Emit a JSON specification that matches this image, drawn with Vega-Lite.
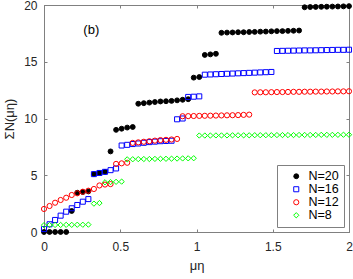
{
  "$schema": "https://vega.github.io/schema/vega-lite/v6.json",
  "width": 305,
  "height": 227,
  "autosize": {"type": "none"},
  "padding": {"left": 44, "top": 5, "right": 4, "bottom": 47},
  "config": {
    "font": "Liberation Sans",
    "view": {"stroke": "#808080", "strokeWidth": 1},
    "axis": {
      "grid": false,
      "domainColor": "#808080",
      "tickColor": "#808080",
      "tickSize": -3,
      "labelColor": "#262626",
      "labelFontSize": 12,
      "titleFontWeight": "normal",
      "titleColor": "#262626",
      "titleFontSize": 13
    },
    "legend": {
      "orient": "bottom-right",
      "offset": 5,
      "fillColor": "white",
      "strokeColor": "#808080",
      "padding": 5,
      "labelFontSize": 12.5,
      "labelColor": "#000000",
      "rowPadding": 0,
      "symbolOffset": 8,
      "labelOffset": 6,
      "symbolStrokeWidth": 1,
      "title": null
    }
  },
  "layer": [
    {
      "data": {
        "values": [
          {"N": "N=20", "mu": 0, "s": 0}, {"N": "N=20", "mu": 0.0364, "s": 0}, {"N": "N=20", "mu": 0.0727, "s": 0}, {"N": "N=20", "mu": 0.1091, "s": 0}, {"N": "N=20", "mu": 0.1455, "s": 0},
          {"N": "N=20", "mu": 0.1818, "s": 1.85},
          {"N": "N=20", "mu": 0.2182, "s": 3.46}, {"N": "N=20", "mu": 0.2545, "s": 3.52}, {"N": "N=20", "mu": 0.2909, "s": 3.58},
          {"N": "N=20", "mu": 0.3273, "s": 5.1}, {"N": "N=20", "mu": 0.3636, "s": 5.2}, {"N": "N=20", "mu": 0.4, "s": 5.3},
          {"N": "N=20", "mu": 0.4364, "s": 7.1},
          {"N": "N=20", "mu": 0.4727, "s": 9.0}, {"N": "N=20", "mu": 0.5091, "s": 9.1}, {"N": "N=20", "mu": 0.5455, "s": 9.2}, {"N": "N=20", "mu": 0.5818, "s": 9.25},
          {"N": "N=20", "mu": 0.6182, "s": 11.3}, {"N": "N=20", "mu": 0.6545, "s": 11.35}, {"N": "N=20", "mu": 0.6909, "s": 11.4}, {"N": "N=20", "mu": 0.7273, "s": 11.45}, {"N": "N=20", "mu": 0.7636, "s": 11.5}, {"N": "N=20", "mu": 0.8, "s": 11.52}, {"N": "N=20", "mu": 0.8364, "s": 11.55}, {"N": "N=20", "mu": 0.8727, "s": 11.6}, {"N": "N=20", "mu": 0.9091, "s": 11.65}, {"N": "N=20", "mu": 0.9455, "s": 11.7},
          {"N": "N=20", "mu": 0.9818, "s": 13.6}, {"N": "N=20", "mu": 1.0182, "s": 13.65},
          {"N": "N=20", "mu": 1.0545, "s": 15.6}, {"N": "N=20", "mu": 1.0909, "s": 15.65}, {"N": "N=20", "mu": 1.1273, "s": 15.7},
          {"N": "N=20", "mu": 1.1636, "s": 17.55}, {"N": "N=20", "mu": 1.2, "s": 17.57}, {"N": "N=20", "mu": 1.2364, "s": 17.58}, {"N": "N=20", "mu": 1.2727, "s": 17.6}, {"N": "N=20", "mu": 1.3091, "s": 17.6}, {"N": "N=20", "mu": 1.3455, "s": 17.62}, {"N": "N=20", "mu": 1.3818, "s": 17.63}, {"N": "N=20", "mu": 1.4182, "s": 17.65}, {"N": "N=20", "mu": 1.4545, "s": 17.66}, {"N": "N=20", "mu": 1.4909, "s": 17.68}, {"N": "N=20", "mu": 1.5273, "s": 17.7}, {"N": "N=20", "mu": 1.5636, "s": 17.7}, {"N": "N=20", "mu": 1.6, "s": 17.72}, {"N": "N=20", "mu": 1.6364, "s": 17.73}, {"N": "N=20", "mu": 1.6727, "s": 17.75},
          {"N": "N=20", "mu": 1.7091, "s": 19.8}, {"N": "N=20", "mu": 1.7455, "s": 19.82}, {"N": "N=20", "mu": 1.7818, "s": 19.83}, {"N": "N=20", "mu": 1.8182, "s": 19.84}, {"N": "N=20", "mu": 1.8545, "s": 19.85}, {"N": "N=20", "mu": 1.8909, "s": 19.86}, {"N": "N=20", "mu": 1.9273, "s": 19.87}, {"N": "N=20", "mu": 1.9636, "s": 19.88}, {"N": "N=20", "mu": 2.0, "s": 19.9},

          {"N": "N=16", "mu": 0, "s": 0.26}, {"N": "N=16", "mu": 0.0364, "s": 0.68}, {"N": "N=16", "mu": 0.0727, "s": 1.06}, {"N": "N=16", "mu": 0.1091, "s": 1.44}, {"N": "N=16", "mu": 0.1455, "s": 1.79}, {"N": "N=16", "mu": 0.1818, "s": 2.09}, {"N": "N=16", "mu": 0.2182, "s": 2.38}, {"N": "N=16", "mu": 0.2545, "s": 2.67}, {"N": "N=16", "mu": 0.2909, "s": 2.9},
          {"N": "N=16", "mu": 0.3273, "s": 5.1}, {"N": "N=16", "mu": 0.3636, "s": 5.2}, {"N": "N=16", "mu": 0.4, "s": 5.3}, {"N": "N=16", "mu": 0.4364, "s": 5.45}, {"N": "N=16", "mu": 0.4727, "s": 5.6},
          {"N": "N=16", "mu": 0.5091, "s": 7.62}, {"N": "N=16", "mu": 0.5455, "s": 7.68}, {"N": "N=16", "mu": 0.5818, "s": 7.75}, {"N": "N=16", "mu": 0.6182, "s": 7.8}, {"N": "N=16", "mu": 0.6545, "s": 7.86}, {"N": "N=16", "mu": 0.6909, "s": 7.92}, {"N": "N=16", "mu": 0.7273, "s": 7.96}, {"N": "N=16", "mu": 0.7636, "s": 8.0}, {"N": "N=16", "mu": 0.8, "s": 8.02}, {"N": "N=16", "mu": 0.8364, "s": 8.04},
          {"N": "N=16", "mu": 0.8727, "s": 9.93}, {"N": "N=16", "mu": 0.9091, "s": 10.0},
          {"N": "N=16", "mu": 0.9455, "s": 11.9}, {"N": "N=16", "mu": 0.9818, "s": 11.92}, {"N": "N=16", "mu": 1.0182, "s": 11.95},
          {"N": "N=16", "mu": 1.0545, "s": 13.86}, {"N": "N=16", "mu": 1.0909, "s": 13.88}, {"N": "N=16", "mu": 1.1273, "s": 13.9}, {"N": "N=16", "mu": 1.1636, "s": 13.92}, {"N": "N=16", "mu": 1.2, "s": 13.94}, {"N": "N=16", "mu": 1.2364, "s": 13.96}, {"N": "N=16", "mu": 1.2727, "s": 13.98}, {"N": "N=16", "mu": 1.3091, "s": 14.0}, {"N": "N=16", "mu": 1.3455, "s": 14.02}, {"N": "N=16", "mu": 1.3818, "s": 14.04}, {"N": "N=16", "mu": 1.4182, "s": 14.06}, {"N": "N=16", "mu": 1.4545, "s": 14.08}, {"N": "N=16", "mu": 1.4909, "s": 14.1},
          {"N": "N=16", "mu": 1.5273, "s": 15.95}, {"N": "N=16", "mu": 1.5636, "s": 15.96}, {"N": "N=16", "mu": 1.6, "s": 15.97}, {"N": "N=16", "mu": 1.6364, "s": 15.98}, {"N": "N=16", "mu": 1.6727, "s": 15.99}, {"N": "N=16", "mu": 1.7091, "s": 16.0}, {"N": "N=16", "mu": 1.7455, "s": 16.0}, {"N": "N=16", "mu": 1.7818, "s": 16.01}, {"N": "N=16", "mu": 1.8182, "s": 16.02}, {"N": "N=16", "mu": 1.8545, "s": 16.03}, {"N": "N=16", "mu": 1.8909, "s": 16.04}, {"N": "N=16", "mu": 1.9273, "s": 16.05}, {"N": "N=16", "mu": 1.9636, "s": 16.05}, {"N": "N=16", "mu": 2.0, "s": 16.06},

          {"N": "N=12", "mu": 0, "s": 2.03}, {"N": "N=12", "mu": 0.0364, "s": 2.29}, {"N": "N=12", "mu": 0.0727, "s": 2.58}, {"N": "N=12", "mu": 0.1091, "s": 2.82}, {"N": "N=12", "mu": 0.1455, "s": 3.02}, {"N": "N=12", "mu": 0.1818, "s": 3.26}, {"N": "N=12", "mu": 0.2182, "s": 3.41}, {"N": "N=12", "mu": 0.2545, "s": 3.55}, {"N": "N=12", "mu": 0.2909, "s": 3.64}, {"N": "N=12", "mu": 0.3273, "s": 3.79}, {"N": "N=12", "mu": 0.3636, "s": 4.1}, {"N": "N=12", "mu": 0.4, "s": 4.18}, {"N": "N=12", "mu": 0.4364, "s": 4.22},
          {"N": "N=12", "mu": 0.4727, "s": 6.0}, {"N": "N=12", "mu": 0.5091, "s": 6.05}, {"N": "N=12", "mu": 0.5455, "s": 6.1},
          {"N": "N=12", "mu": 0.5818, "s": 7.85}, {"N": "N=12", "mu": 0.6182, "s": 7.9}, {"N": "N=12", "mu": 0.6545, "s": 7.95}, {"N": "N=12", "mu": 0.6909, "s": 8.0}, {"N": "N=12", "mu": 0.7273, "s": 8.05}, {"N": "N=12", "mu": 0.7636, "s": 8.1}, {"N": "N=12", "mu": 0.8, "s": 8.12}, {"N": "N=12", "mu": 0.8364, "s": 8.15}, {"N": "N=12", "mu": 0.8727, "s": 8.2},
          {"N": "N=12", "mu": 0.9091, "s": 10.2}, {"N": "N=12", "mu": 0.9455, "s": 10.21}, {"N": "N=12", "mu": 0.9818, "s": 10.22}, {"N": "N=12", "mu": 1.0182, "s": 10.23}, {"N": "N=12", "mu": 1.0545, "s": 10.24}, {"N": "N=12", "mu": 1.0909, "s": 10.25}, {"N": "N=12", "mu": 1.1273, "s": 10.26}, {"N": "N=12", "mu": 1.1636, "s": 10.27}, {"N": "N=12", "mu": 1.2, "s": 10.28}, {"N": "N=12", "mu": 1.2364, "s": 10.29}, {"N": "N=12", "mu": 1.2727, "s": 10.3}, {"N": "N=12", "mu": 1.3091, "s": 10.32}, {"N": "N=12", "mu": 1.3455, "s": 10.34},
          {"N": "N=12", "mu": 1.3818, "s": 12.3}, {"N": "N=12", "mu": 1.4182, "s": 12.31}, {"N": "N=12", "mu": 1.4545, "s": 12.31}, {"N": "N=12", "mu": 1.4909, "s": 12.32}, {"N": "N=12", "mu": 1.5273, "s": 12.33}, {"N": "N=12", "mu": 1.5636, "s": 12.33}, {"N": "N=12", "mu": 1.6, "s": 12.34}, {"N": "N=12", "mu": 1.6364, "s": 12.35}, {"N": "N=12", "mu": 1.6727, "s": 12.35}, {"N": "N=12", "mu": 1.7091, "s": 12.36}, {"N": "N=12", "mu": 1.7455, "s": 12.36}, {"N": "N=12", "mu": 1.7818, "s": 12.37}, {"N": "N=12", "mu": 1.8182, "s": 12.37}, {"N": "N=12", "mu": 1.8545, "s": 12.38}, {"N": "N=12", "mu": 1.8909, "s": 12.38}, {"N": "N=12", "mu": 1.9273, "s": 12.39}, {"N": "N=12", "mu": 1.9636, "s": 12.39}, {"N": "N=12", "mu": 2.0, "s": 12.4},

          {"N": "N=8", "mu": 0, "s": 0.6}, {"N": "N=8", "mu": 0.0364, "s": 0.61}, {"N": "N=8", "mu": 0.0727, "s": 0.62}, {"N": "N=8", "mu": 0.1091, "s": 0.62}, {"N": "N=8", "mu": 0.1455, "s": 0.63}, {"N": "N=8", "mu": 0.1818, "s": 0.63}, {"N": "N=8", "mu": 0.2182, "s": 0.64}, {"N": "N=8", "mu": 0.2545, "s": 0.64}, {"N": "N=8", "mu": 0.2909, "s": 0.65},
          {"N": "N=8", "mu": 0.3273, "s": 2.5}, {"N": "N=8", "mu": 0.3636, "s": 2.55},
          {"N": "N=8", "mu": 0.4, "s": 4.38}, {"N": "N=8", "mu": 0.4364, "s": 4.4}, {"N": "N=8", "mu": 0.4727, "s": 4.42}, {"N": "N=8", "mu": 0.5091, "s": 4.44},
          {"N": "N=8", "mu": 0.5455, "s": 6.4}, {"N": "N=8", "mu": 0.5818, "s": 6.41}, {"N": "N=8", "mu": 0.6182, "s": 6.42}, {"N": "N=8", "mu": 0.6545, "s": 6.43}, {"N": "N=8", "mu": 0.6909, "s": 6.43}, {"N": "N=8", "mu": 0.7273, "s": 6.44}, {"N": "N=8", "mu": 0.7636, "s": 6.45}, {"N": "N=8", "mu": 0.8, "s": 6.45}, {"N": "N=8", "mu": 0.8364, "s": 6.46}, {"N": "N=8", "mu": 0.8727, "s": 6.47}, {"N": "N=8", "mu": 0.9091, "s": 6.48}, {"N": "N=8", "mu": 0.9455, "s": 6.49}, {"N": "N=8", "mu": 0.9818, "s": 6.5},
          {"N": "N=8", "mu": 1.0182, "s": 8.5}, {"N": "N=8", "mu": 1.0545, "s": 8.5}, {"N": "N=8", "mu": 1.0909, "s": 8.5}, {"N": "N=8", "mu": 1.1273, "s": 8.51}, {"N": "N=8", "mu": 1.1636, "s": 8.51}, {"N": "N=8", "mu": 1.2, "s": 8.51}, {"N": "N=8", "mu": 1.2364, "s": 8.52}, {"N": "N=8", "mu": 1.2727, "s": 8.52}, {"N": "N=8", "mu": 1.3091, "s": 8.52}, {"N": "N=8", "mu": 1.3455, "s": 8.52}, {"N": "N=8", "mu": 1.3818, "s": 8.53}, {"N": "N=8", "mu": 1.4182, "s": 8.53}, {"N": "N=8", "mu": 1.4545, "s": 8.53}, {"N": "N=8", "mu": 1.4909, "s": 8.53}, {"N": "N=8", "mu": 1.5273, "s": 8.54}, {"N": "N=8", "mu": 1.5636, "s": 8.54}, {"N": "N=8", "mu": 1.6, "s": 8.54}, {"N": "N=8", "mu": 1.6364, "s": 8.54}, {"N": "N=8", "mu": 1.6727, "s": 8.55}, {"N": "N=8", "mu": 1.7091, "s": 8.55}, {"N": "N=8", "mu": 1.7455, "s": 8.55}, {"N": "N=8", "mu": 1.7818, "s": 8.55}, {"N": "N=8", "mu": 1.8182, "s": 8.56}, {"N": "N=8", "mu": 1.8545, "s": 8.56}, {"N": "N=8", "mu": 1.8909, "s": 8.56}, {"N": "N=8", "mu": 1.9273, "s": 8.56}, {"N": "N=8", "mu": 1.9636, "s": 8.57}, {"N": "N=8", "mu": 2.0, "s": 8.57}
        ]
      },
      "layer": [
        {
          "mark": {"type": "point", "opacity": 1, "strokeWidth": 1},
          "encoding": {
            "x": {
              "field": "mu", "type": "quantitative",
              "scale": {"domain": [0, 2], "nice": false, "zero": false},
              "axis": {"values": [0, 0.5, 1, 1.5, 2], "labelExpr": "datum.value", "labelPadding": 12, "title": "μη", "titlePadding": 7, "labelFlush": false}
            },
            "y": {
              "field": "s", "type": "quantitative",
              "scale": {"domain": [0, 20], "nice": false},
              "axis": {"values": [0, 5, 10, 15, 20], "labelPadding": 10, "title": "ΣN(μη)", "titlePadding": 7}
            },
            "shape": {
              "field": "N", "type": "nominal",
              "scale": {"domain": ["N=20", "N=16", "N=12", "N=8"], "range": ["circle", "square", "circle", "diamond"]}
            },
            "stroke": {
              "field": "N", "type": "nominal",
              "scale": {"domain": ["N=20", "N=16", "N=12", "N=8"], "range": ["#000000", "#0000ff", "#ff0000", "#00ff00"]}
            },
            "fill": {
              "field": "N", "type": "nominal",
              "scale": {"domain": ["N=20", "N=16", "N=12", "N=8"], "range": ["#000000", "transparent", "transparent", "transparent"]}
            },
            "size": {
              "field": "N", "type": "nominal",
              "scale": {"domain": ["N=20", "N=16", "N=12", "N=8"], "range": [24, 28, 34, 44]}
            }
          }
        },
        {
          "mark": {"type": "point", "opacity": 0},
          "encoding": {
            "x": {"field": "mu", "type": "quantitative", "axis": {"orient": "top", "values": [0, 0.5, 1, 1.5, 2], "labels": false, "title": null}},
            "y": {"field": "s", "type": "quantitative", "axis": {"orient": "right", "values": [0, 5, 10, 15, 20], "labels": false, "title": null}}
          }
        }
      ],
      "resolve": {"axis": {"x": "independent", "y": "independent"}}
    },
    {
      "data": {"values": [{"label": "(b)"}]},
      "mark": {"type": "text", "fontSize": 13, "color": "#000000", "font": "Liberation Sans"},
      "encoding": {
        "x": {"datum": 0.31, "axis": null},
        "y": {"datum": 17.8, "axis": null},
        "text": {"field": "label"}
      }
    }
  ]
}
